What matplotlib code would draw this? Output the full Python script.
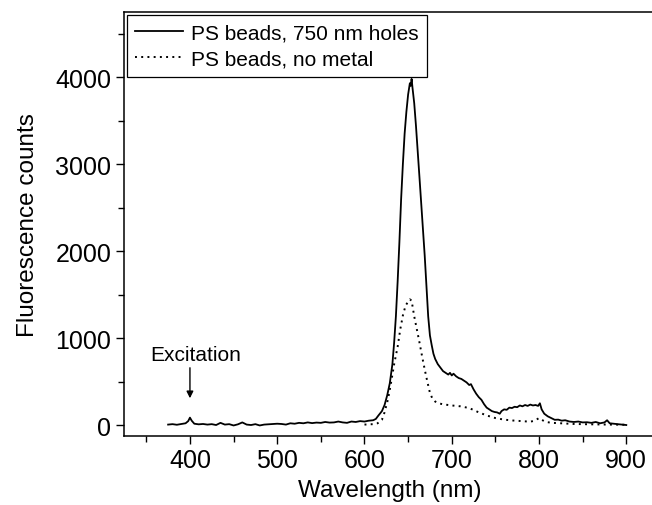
import matplotlib
matplotlib.use("Agg")
import matplotlib.pyplot as plt
from matplotlib.ticker import MultipleLocator

plt.rcParams['font.family'] = ['Liberation Sans', 'DejaVu Sans']

# Solid: PS beads, 750 nm holes
wl_holes = [375, 380, 385, 390, 395, 398, 400, 402, 405, 410, 415, 420, 425, 430, 435,
            440, 445, 450, 455, 460, 465, 470, 475, 480, 485, 490, 495, 500, 505, 510,
            515, 520, 525, 530, 535, 540, 545, 550, 555, 560, 565, 570, 575, 580, 585,
            590, 595, 600, 605, 610, 613, 616, 620, 623, 626, 629, 632, 634, 636, 638,
            640, 642, 644, 646, 648, 650, 652, 653, 654, 655, 657, 659, 661, 663, 665,
            667, 669, 671, 673, 675, 677, 679, 681, 684, 687, 690, 693, 696, 698, 700,
            702, 705, 708, 711, 714, 717, 720, 722, 725, 728, 731, 734, 737, 740, 743,
            746, 749, 752, 755, 757, 760, 763, 766, 769, 772, 775, 778, 781, 784, 787,
            790, 793, 796, 799, 801, 803, 806, 810, 814, 818, 822, 826, 830, 835, 840,
            845, 850, 855, 860, 865, 870, 875, 878, 881, 885, 890, 895, 900]
cnt_holes = [5, 10, 3, 12, 20, 45, 85, 50, 15, 8, 12, 5, 10, 0, 25,
             5, 10, -5, 8, 30, 5, 0, 10, -5, 5, 8, 10, 15, 12, 5,
             20, 15, 25, 20, 30, 22, 28, 25, 35, 28, 30, 40, 30, 25, 40,
             35, 45, 40, 50, 55, 70, 110, 160, 230, 340, 480, 700, 950, 1250, 1650,
             2100, 2600, 3000, 3350, 3600, 3800, 3930, 3900, 3980, 3880, 3700, 3440, 3150, 2850, 2550,
             2250, 1950, 1600, 1250, 1030, 920, 820, 760, 700, 660, 620, 600, 580, 600, 570,
             590, 560, 540, 530, 510, 490, 460, 470, 410, 360, 320, 290, 240, 200, 180,
             160, 150, 145, 130, 160, 180, 175, 200, 195, 210, 205, 225, 215, 230, 220,
             235, 225, 230, 220, 250, 180, 130, 100, 80, 60, 62, 50, 55, 40, 35,
             40, 30, 32, 25, 35, 20, 30, 55, 20, 15, 10, 5, 0]

# Dotted: PS beads, no metal
wl_nometal = [600, 610, 615, 620, 623, 627, 630, 634, 638, 641, 644, 647, 650, 652, 654,
              657, 660, 663, 666, 669, 672, 675, 678, 681, 685, 690, 700, 710, 720, 730,
              740, 750, 760, 770, 780, 790, 795, 800, 803, 808, 815, 825, 840, 860, 880, 900]
cnt_nometal = [5, 10, 20, 60, 146, 300, 460, 700, 900, 1100, 1260, 1370, 1420, 1445, 1430,
               1250, 1100, 950, 790, 640, 500, 370, 300, 270, 250, 238, 225, 215, 195, 150,
               110, 80, 62, 52, 45, 38, 50, 80, 60, 35, 25, 20, 12, 8, 5, 3]

fig = plt.figure(figsize=(6.52, 5.06), dpi=100)
ax = fig.add_axes([0.190, 0.1364, 0.815, 0.8376])

ax.plot(wl_holes, cnt_holes, color='black', lw=1.3, label='PS beads, 750 nm holes')
ax.plot(wl_nometal, cnt_nometal, color='black', lw=1.4, ls=(0, (1, 2.2)), label='PS beads, no metal')

ax.set_xlim(324.3, 933.2)
ax.set_ylim(-126, 4747)
ax.xaxis.set_major_locator(MultipleLocator(100))
ax.xaxis.set_minor_locator(MultipleLocator(50))
ax.yaxis.set_major_locator(MultipleLocator(1000))
ax.yaxis.set_minor_locator(MultipleLocator(500))
ax.tick_params(which='both', direction='out', top=False, right=False, labelsize=18, width=1.0)
ax.tick_params(which='major', length=6, pad=3)
ax.tick_params(which='minor', length=4)
for s in ax.spines.values():
    s.set_linewidth(1.1)
ax.spines['right'].set_visible(False)

ax.set_xlabel('Wavelength (nm)', fontsize=17.5, labelpad=5)
ax.set_ylabel('Fluorescence counts', fontsize=17.5, labelpad=12)

ax.text(407, 816, 'Excitation', fontsize=15, ha='center', va='center')
ax.annotate('', xy=(400, 276), xytext=(400, 690),
            arrowprops=dict(arrowstyle='-|>', color='black', lw=1.0, mutation_scale=10))

leg = ax.legend(loc='upper left', bbox_to_anchor=(0.005, 0.993), fontsize=15, frameon=True,
                fancybox=False, edgecolor='black', framealpha=1, handlelength=2.3,
                handletextpad=0.4, borderpad=0.4, labelspacing=0.35, borderaxespad=0.0)
leg.get_frame().set_linewidth(0.9)

fig.savefig('out.png', dpi=100)
